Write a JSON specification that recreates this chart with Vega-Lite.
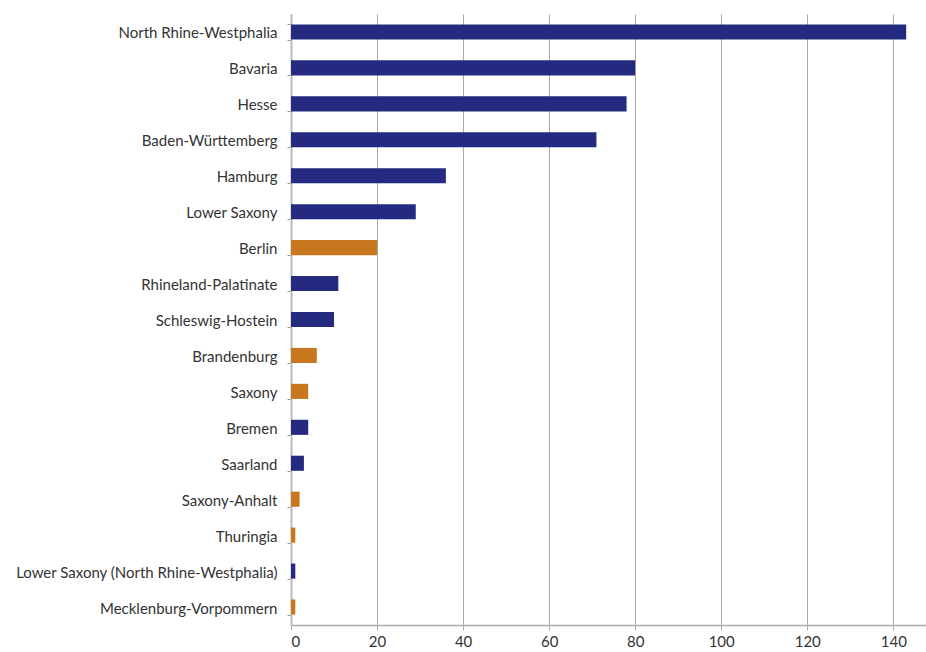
{
  "$schema": "https://vega.github.io/schema/vega-lite/v6.json",
  "autosize": "none",
  "padding": {"left": 291, "top": 14, "right": 0, "bottom": 27},
  "width": 635,
  "height": 611,
  "background": "white",
  "data": {
    "values": [
      {"state": "North Rhine-Westphalia", "value": 143, "group": "West"},
      {"state": "Bavaria", "value": 80, "group": "West"},
      {"state": "Hesse", "value": 78, "group": "West"},
      {"state": "Baden-Württemberg", "value": 71, "group": "West"},
      {"state": "Hamburg", "value": 36, "group": "West"},
      {"state": "Lower Saxony", "value": 29, "group": "West"},
      {"state": "Berlin", "value": 20, "group": "East"},
      {"state": "Rhineland-Palatinate", "value": 11, "group": "West"},
      {"state": "Schleswig-Hostein", "value": 10, "group": "West"},
      {"state": "Brandenburg", "value": 6, "group": "East"},
      {"state": "Saxony", "value": 4, "group": "East"},
      {"state": "Bremen", "value": 4, "group": "West"},
      {"state": "Saarland", "value": 3, "group": "West"},
      {"state": "Saxony-Anhalt", "value": 2, "group": "East"},
      {"state": "Thuringia", "value": 1, "group": "East"},
      {"state": "Lower Saxony (North Rhine-Westphalia)", "value": 1, "group": "West"},
      {"state": "Mecklenburg-Vorpommern", "value": 1, "group": "East"}
    ]
  },
  "mark": {"type": "bar"},
  "encoding": {
    "y": {
      "field": "state",
      "type": "nominal",
      "sort": null,
      "scale": {"paddingInner": 0.58, "paddingOuter": 0.29},
      "axis": {
        "title": null,
        "tickBand": "extent",
        "tickSize": 4,
        "tickColor": "#999999",
        "domainColor": "#bbbbbb",
        "domainWidth": 2,
        "labelPadding": 10,
        "labelLimit": 0,
        "labelFont": "Lato",
        "labelFontSize": 15,
        "labelColor": "#333333",
        "labelOffset": 1,
        "grid": false
      }
    },
    "x": {
      "field": "value",
      "type": "quantitative",
      "scale": {"domain": [0, 147.6], "nice": false},
      "axis": {
        "title": null,
        "values": [0, 20, 40, 60, 80, 100, 120, 140],
        "grid": true,
        "gridColor": "#aaaaaa",
        "gridWidth": 1,
        "tickSize": 5,
        "tickColor": "#aaaaaa",
        "domainColor": "#aaaaaa",
        "domainWidth": 1.5,
        "labelPadding": 4,
        "labelFont": "Lato",
        "labelFontSize": 15,
        "labelColor": "#333333"
      }
    },
    "color": {
      "field": "group",
      "type": "nominal",
      "scale": {"domain": ["West", "East"], "range": ["#232a80", "#c8771f"]},
      "legend": null
    }
  },
  "config": {"view": {"stroke": null}}
}
